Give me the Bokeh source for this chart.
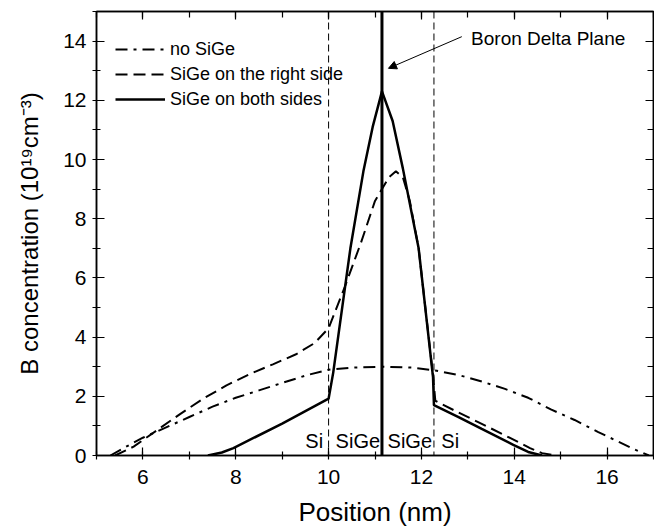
from bokeh.plotting import figure
from bokeh.models import (Legend, LegendItem, Span, Arrow, NormalHead, Label,
                          LinearAxis, SingleIntervalTicker, Range1d,
                          CustomLabelingPolicy)
from bokeh.core.properties import value
from bokeh.embed import file_html
from bokeh.resources import INLINE

# ---- data ----
nosige_x = [5.3, 5.7, 6.0, 6.5, 7.0, 7.5, 8.0, 8.5, 9.0, 9.5, 10.0, 10.5, 11.15,
            11.8, 12.3, 12.8, 13.3, 13.8, 14.3, 14.8, 15.3, 15.8, 16.2, 16.6, 16.9]
nosige_y = [0.0, 0.35, 0.6, 0.95, 1.3, 1.65, 1.95, 2.2, 2.45, 2.7, 2.9, 2.97, 3.0,
            2.97, 2.87, 2.72, 2.5, 2.25, 1.95, 1.55, 1.2, 0.8, 0.5, 0.2, 0.0]

right_x = [5.4, 5.8, 6.3, 6.8, 7.3, 7.8, 8.3, 8.8, 9.3, 9.7, 10.0, 10.35, 10.7,
           11.0, 11.3, 11.45, 11.6, 11.75, 11.94, 12.25, 12.3, 12.8, 13.3, 13.8,
           14.34, 14.6, 14.9]
right_y = [0.0, 0.3, 0.85, 1.4, 1.92, 2.37, 2.75, 3.08, 3.42, 3.8, 4.3, 5.7, 7.2,
           8.6, 9.4, 9.6, 9.4, 8.6, 7.0, 2.7, 1.85, 1.45, 1.07, 0.68, 0.25, 0.08, 0.0]

both_x = [7.4, 7.7, 7.95, 9.0, 10.0, 10.1, 10.47, 10.75, 10.95, 11.15, 11.38,
          11.6, 11.94, 12.25, 12.27, 12.8, 13.3, 13.98, 14.3, 14.6]
both_y = [0.0, 0.1, 0.25, 1.08, 1.92, 2.8, 7.0, 9.6, 11.1, 12.3, 11.3,
          9.7, 7.0, 2.65, 1.7, 1.3, 0.9, 0.36, 0.12, 0.0]

boundary_x = [10.0, 12.27]
delta_x = 11.15

region_labels = ["Si", "SiGe", "SiGe", "Si"]
region_x = [9.69, 10.63, 11.75, 12.62]
region_y = [0.5, 0.5, 0.5, 0.5]

x_ticks_interval = 2
y_ticks_interval = 2

FONT = "Liberation Sans"

p = figure(width=654, height=529, x_range=Range1d(5, 17), y_range=Range1d(0, 15),
           output_backend="svg", toolbar_location=None,
           min_border_left=96, min_border_right=1, min_border_top=11,
           min_border_bottom=70)
p.grid.visible = False
p.outline_line_color = "black"
p.outline_line_width = 1.5
p.background_fill_color = "white"
p.border_fill_color = "white"

no_labels = CustomLabelingPolicy(code="""
    const idx = [...indices]
    for (const i of idx) indices.unset(i)
    return indices
""")

def style_axis(ax, labels=True):
    ax.axis_line_width = 1.5
    ax.axis_line_color = "black"
    ax.major_tick_line_width = 1.2
    ax.minor_tick_line_width = 1.2
    ax.major_tick_in = 8
    ax.major_tick_out = 0
    ax.minor_tick_in = 4
    ax.minor_tick_out = 4
    ax.major_label_text_font = FONT
    ax.major_label_text_color = "black"
    ax.axis_label_text_font = FONT
    ax.axis_label_text_font_style = "normal"
    ax.axis_label_text_color = "black"
    if not labels:
        ax.major_label_policy = no_labels
        ax.major_label_text_font_size = "0px"
        ax.major_label_standoff = 0
        ax.minor_tick_in = 6
        ax.minor_tick_out = 0

xt = SingleIntervalTicker(interval=x_ticks_interval, num_minor_ticks=2)
yt = SingleIntervalTicker(interval=y_ticks_interval, num_minor_ticks=2)

p.xaxis.ticker = xt
p.yaxis.ticker = yt
for ax in p.xaxis + p.yaxis:
    style_axis(ax)
p.xaxis.major_label_text_font_size = "21px"
p.yaxis.major_label_text_font_size = "21px"
p.xaxis.major_label_standoff = 10
p.yaxis.major_label_standoff = 6
p.xaxis.axis_label = "Position (nm)"
p.yaxis.axis_label = "B concentration (10\u00b9\u2079cm\u207b\u00b3)"
p.xaxis.axis_label_text_font_size = "26px"
p.yaxis.axis_label_text_font_size = "24px"
p.xaxis.axis_label_standoff = 10
p.yaxis.axis_label_standoff = 17

top = LinearAxis(ticker=SingleIntervalTicker(interval=x_ticks_interval, num_minor_ticks=2))
right = LinearAxis(ticker=SingleIntervalTicker(interval=y_ticks_interval, num_minor_ticks=2))
style_axis(top, labels=False)
style_axis(right, labels=False)
p.add_layout(top, "above")
p.add_layout(right, "right")

# region boundaries and delta plane
for bx in boundary_x:
    p.add_layout(Span(location=bx, dimension="height", line_color="black",
                      line_width=1, line_dash="7 4"))
p.add_layout(Span(location=delta_x, dimension="height", line_color="black",
                  line_width=3))

r1 = p.line(nosige_x, nosige_y, line_color="black", line_width=2, line_dash="12 6 3 6")
r2 = p.line(right_x, right_y, line_color="black", line_width=2, line_dash="12 6")
r3 = p.line(both_x, both_y, line_color="black", line_width=2.5)

p.text(x=region_x, y=region_y, text=region_labels, text_font=value(FONT),
       text_font_size=value("20px"), text_align="center",
       text_baseline="alphabetic", text_color="black")

p.add_layout(Arrow(end=NormalHead(size=8, fill_color="black", line_color="black"),
                   x_start=12.87, y_start=14.15, x_end=11.29, y_end=13.08,
                   line_color="black", line_width=1))
p.add_layout(Label(x=13.07, y=14.09, text="Boron Delta Plane", text_font=FONT,
                   text_font_size="19px", text_baseline="alphabetic",
                   text_color="black"))

legend = Legend(items=[LegendItem(label="no SiGe", renderers=[r1]),
                       LegendItem(label="SiGe on the right side", renderers=[r2]),
                       LegendItem(label="SiGe on both sides", renderers=[r3])],
                location=(19, 345), label_text_font=FONT, label_text_font_size="18px",
                label_text_color="black",
                glyph_width=50, glyph_height=22, label_height=22, spacing=3,
                padding=0, margin=0, label_standoff=5,
                border_line_color=None, background_fill_alpha=0)
p.add_layout(legend)

open("out.html", "w").write(file_html(p, INLINE))
